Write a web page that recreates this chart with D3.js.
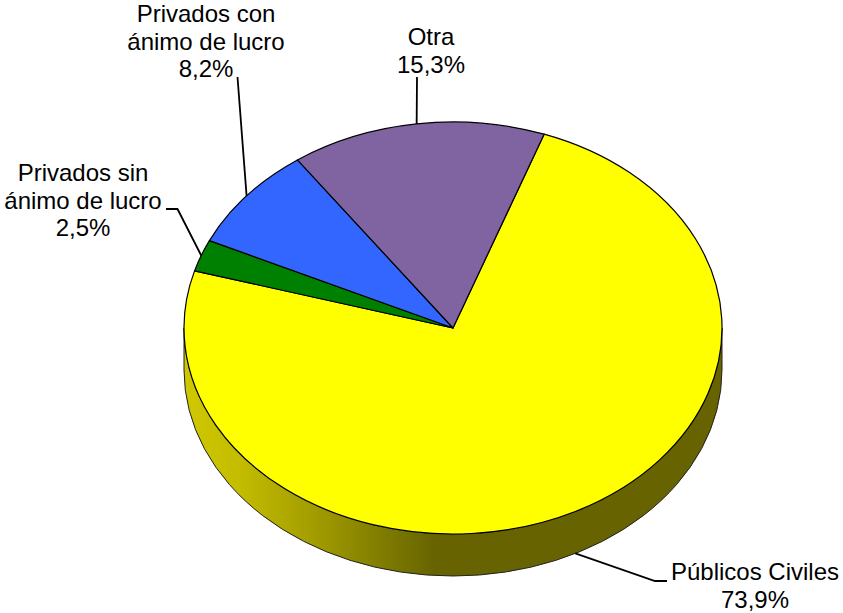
<!DOCTYPE html>
<html><head><meta charset="utf-8">
<script src="https://cdn.jsdelivr.net/npm/d3@7"></script>
<style>html,body{margin:0;padding:0;background:#fff}svg{display:block}text{font-family:"Liberation Sans",Arial,sans-serif;font-size:24px;fill:#000}</style>
</head><body>
<script>
const categories=["Públicos Civiles","Privados sin ánimo de lucro","Privados con ánimo de lucro","Otra"];
const values=[73.9,2.5,8.2,15.3];
const labelLines=[["Públicos Civiles","73,9%"],["Privados sin","ánimo de lucro","2,5%"],["Privados con","ánimo de lucro","8,2%"],["Otra","15,3%"]];
const colors=["#ffff00","#008000","#3366ff","#8064a2"];
const labelX=[755,83,206,431];
const labelY=[580,181,22,45];
const leaderBends=[[[655,581],[667,581]],[[177.5,209],[166,209]],[[237.5,77]],[[417,77]]];

const W=843,H=613,cx=453,cy=328,rx=269,ry=206,depth=42;
const svg=d3.select("body").append("svg").attr("width",W).attr("height",H);
const startAngle=19.8*Math.PI/180;
const pie=d3.pie().sort(null).startAngle(startAngle).endAngle(startAngle+2*Math.PI);
const arcs=pie(values);
const arc=d3.arc().innerRadius(0).outerRadius(rx);

const grad=svg.append("defs").append("linearGradient").attr("id","wall").attr("gradientUnits","userSpaceOnUse")
 .attr("x1",cx-rx).attr("x2",cx+rx).attr("y1",0).attr("y2",0);
[[0,"#cfc800"],[0.1,"#c4bd00"],[0.25,"#a09a00"],[0.38,"#7d7900"],[0.47,"#666300"],[1,"#666300"]]
 .forEach(d=>grad.append("stop").attr("offset",d[0]).attr("stop-color",d[1]));

// side wall
svg.append("path").attr("fill","url(#wall)").attr("stroke","#222").attr("stroke-width",1)
 .attr("d",`M${cx-rx},${cy}A${rx},${ry} 0 0 0 ${cx+rx},${cy}L${cx+rx},${cy+depth}A${rx},${ry} 0 0 1 ${cx-rx},${cy+depth}Z`);

// top
svg.append("g").attr("transform",`translate(${cx},${cy}) scale(1,${ry/rx})`)
 .selectAll("path").data(arcs).join("path")
 .attr("d",arc).attr("fill",(d,i)=>colors[i]).attr("stroke","#000").attr("stroke-width",1.2)
 .attr("vector-effect","non-scaling-stroke").attr("stroke-linejoin","round");

// leaders
const anchor=d=>{const a=(d.startAngle+d.endAngle)/2;return [cx+rx*Math.sin(a),cy-ry*Math.cos(a)+(Math.cos(a)<0?depth:0)];};
const line=d3.line();
arcs.forEach((d,i)=>{
  svg.append("path").attr("d",line([anchor(d),...leaderBends[i]])).attr("fill","none").attr("stroke","#000").attr("stroke-width",1.8);
});

// labels
labelLines.forEach((ls,i)=>{
  const t=svg.append("text").attr("text-anchor","middle").attr("x",labelX[i]).attr("y",labelY[i]);
  ls.forEach((s,j)=>t.append("tspan").attr("x",labelX[i]).attr("dy",j?27.5:0).text(s));
});
</script>
</body></html>
